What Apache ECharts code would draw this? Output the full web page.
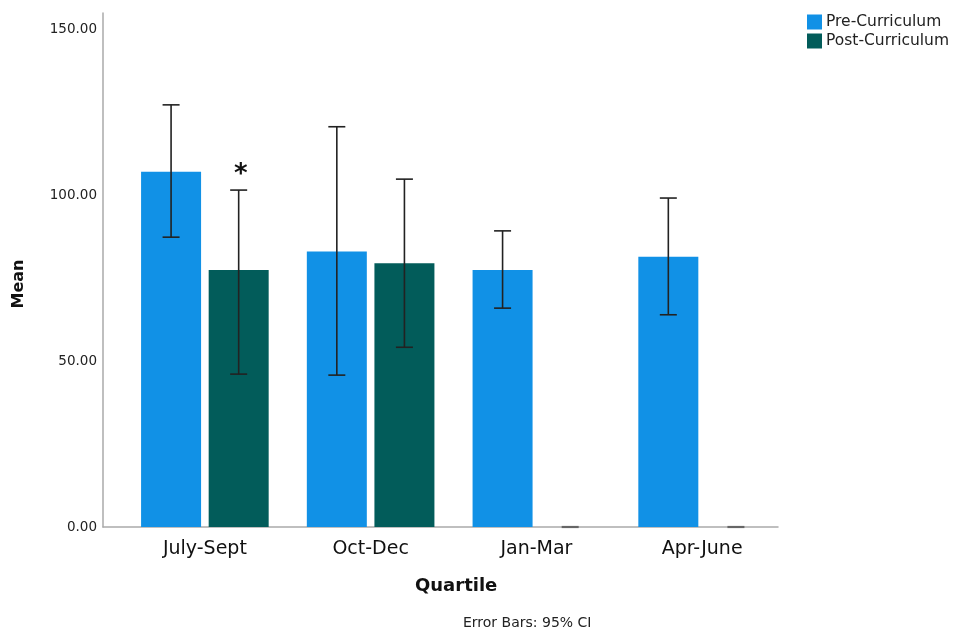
<!DOCTYPE html>
<html><head><meta charset="utf-8">
<script src="https://cdn.jsdelivr.net/npm/echarts@6/dist/echarts.min.js"></script>
<style>html,body{margin:0;padding:0;background:#fff}#c{width:963px;height:633px}</style>
</head><body><div id="c"></div>
<script>
const categories = ['July-Sept', 'Oct-Dec', 'Jan-Mar', 'Apr-June'];
const preMean = [107.1, 83.1, 77.5, 81.5];
const preLow = [87.4, 45.8, 66.0, 64.0];
const preHigh = [127.3, 120.7, 89.3, 99.2];
const postMean = [77.5, 79.5, 0, 0];
const postLow = [46.1, 54.2, 0, 0];
const postHigh = [101.6, 104.9, 0, 0];
const yTicks = [0, 50, 100, 150];
const seriesNames = ['Pre-Curriculum', 'Post-Curriculum'];

const FONT = 'DejaVu Sans';
const BAR_W = 60, GAP = 7.6;
const TOP = 13, BOTTOM = 106, YMAX = 155;

function errSeries(low, high, side, name) {
  return {
    type: 'custom', name: name + ' CI', xAxisIndex: 0, yAxisIndex: 0, z: 5,
    data: categories.map((c, i) => [i, low[i], high[i]]),
    renderItem: function (params, api) {
      const i = api.value(0);
      const lo = api.coord([i, api.value(1)]);
      const hi = api.coord([i, api.value(2)]);
      const x = lo[0] + side * (BAR_W + GAP) / 2;
      const cap = 8.5;
      const zero = api.value(1) === 0 && api.value(2) === 0;
      const st = { stroke: zero ? '#666' : '#222', lineWidth: zero ? 2.2 : 1.6 };
      const children = [
        { type: 'line', shape: { x1: x - cap, y1: hi[1], x2: x + cap, y2: hi[1] }, style: st }
      ];
      if (!zero) {
        children.push({ type: 'line', shape: { x1: x, y1: hi[1], x2: x, y2: lo[1] }, style: st });
        children.push({ type: 'line', shape: { x1: x - cap, y1: lo[1], x2: x + cap, y2: lo[1] }, style: st });
      }
      return { type: 'group', children: children };
    }
  };
}

const chart = echarts.init(document.getElementById('c'), null, { renderer: 'canvas' });
chart.setOption({
  animation: false,
  backgroundColor: '#fff',
  grid: [
    { left: 122, right: 178, top: TOP, bottom: BOTTOM },
    { left: 103, right: 185, top: TOP, bottom: BOTTOM }
  ],
  legend: {
    orient: 'vertical', left: 807, top: 14, padding: 0, itemWidth: 15, itemHeight: 15, itemGap: 3,
    icon: 'rect', data: seriesNames,
    itemStyle: { borderWidth: 0 },
    textStyle: { fontFamily: FONT, fontSize: 15.5, color: '#222', padding: [1, 0, 0, -1] }
  },
  xAxis: [
    {
      type: 'category', gridIndex: 0, data: categories,
      axisLine: { show: false }, axisTick: { show: false },
      axisLabel: { fontFamily: FONT, fontSize: 19, color: '#111', margin: 13 }
    },
    {
      type: 'value', gridIndex: 1, min: 0, max: 1,
      axisLine: { show: true, lineStyle: { color: '#aaa', width: 1.5 } },
      axisTick: { show: false }, axisLabel: { show: false }, splitLine: { show: false }
    }
  ],
  yAxis: [
    {
      type: 'value', gridIndex: 0, min: 0, max: YMAX,
      axisLine: { show: false }, axisTick: { show: false }, axisLabel: { show: false }, splitLine: { show: false }
    },
    {
      type: 'value', gridIndex: 1, min: 0, max: YMAX, interval: 50,
      axisLine: { show: true, lineStyle: { color: '#aaa', width: 1.5 } },
      axisTick: { show: false }, splitLine: { show: false },
      axisLabel: {
        fontFamily: FONT, fontSize: 13.5, color: '#222', margin: 6, padding: [8, 0, 0, 0],
        formatter: v => yTicks.includes(v) ? v.toFixed(2) : ''
      }
    }
  ],
  series: [
    {
      name: seriesNames[0], type: 'bar', xAxisIndex: 0, yAxisIndex: 0,
      data: preMean, barWidth: BAR_W, barGap: (GAP / BAR_W * 100) + '%',
      itemStyle: { color: '#1191E6' }
    },
    {
      name: seriesNames[1], type: 'bar', xAxisIndex: 0, yAxisIndex: 0,
      data: postMean, barWidth: BAR_W,
      itemStyle: { color: '#025C5A' }
    },
    errSeries(preLow, preHigh, -1, seriesNames[0]),
    errSeries(postLow, postHigh, 1, seriesNames[1])
  ],
  graphic: [
    { type: 'text', left: 415, top: 577, style: { text: 'Quartile', fontFamily: FONT, fontSize: 18, fontWeight: 'bold', fill: '#111' } },
    { type: 'text', left: 463, top: 616, style: { text: 'Error Bars: 95% CI', fontFamily: FONT, fontSize: 14, fill: '#222' } },
    { type: 'text', x: 19, y: 284, rotation: Math.PI / 2, style: { text: 'Mean', fontFamily: FONT, fontSize: 16, fontWeight: 'bold', fill: '#111', align: 'center', verticalAlign: 'middle' } },
    { type: 'text', left: 234, top: 162, style: { text: '*', fontFamily: FONT, fontSize: 26, fontWeight: 'bold', fill: '#111' } }
  ]
});
</script></body></html>
